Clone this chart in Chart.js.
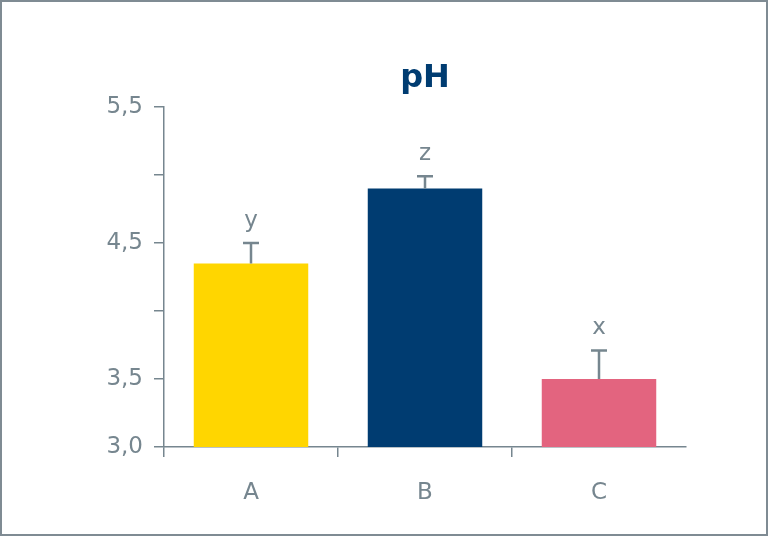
<!DOCTYPE html>
<html>
<head>
<meta charset="utf-8">
<script src="https://cdn.jsdelivr.net/npm/chart.js@4.4.1/dist/chart.umd.min.js"></script>
<style>
html,body{margin:0;padding:0;background:#fff;}
#wrap{width:768px;height:536px;position:relative;}
</style>
</head>
<body>
<div id="wrap"><canvas id="c" width="768" height="536"></canvas></div>
<script>
const categories = ['A', 'B', 'C'];
const phValues = [4.35, 4.90, 3.50];
const errorValues = [0.15, 0.09, 0.21];
const groupLetters = ['y', 'z', 'x'];
const barColors = ['#ffd600', '#003c71', '#e3647f'];
const yTicksShown = [3.0, 3.5, 4.5, 5.5];

const GRAY = '#76868f';
const FONT = "'DejaVu Sans', Verdana, sans-serif";

const errorPlugin = {
  id: 'errorBars',
  afterDatasetsDraw(chart) {
    const ctx = chart.ctx;
    const meta = chart.getDatasetMeta(0);
    const y = chart.scales.y;
    ctx.save();
    ctx.strokeStyle = GRAY;
    ctx.fillStyle = GRAY;
    ctx.lineWidth = 2.5;
    ctx.font = '23px ' + FONT;
    ctx.textAlign = 'center';
    ctx.textBaseline = 'alphabetic';
    meta.data.forEach((bar, i) => {
      const x = bar.x;
      const yTop = y.getPixelForValue(phValues[i]);
      const yErr = y.getPixelForValue(phValues[i] + errorValues[i]);
      ctx.beginPath();
      ctx.moveTo(x, yTop);
      ctx.lineTo(x, yErr);
      ctx.moveTo(x - 8, yErr);
      ctx.lineTo(x + 8, yErr);
      ctx.stroke();
      ctx.fillText(groupLetters[i], x, yErr - 16);
    });
    ctx.restore();
  }
};

const borderPlugin = {
  id: 'frame',
  afterDraw(chart) {
    const ctx = chart.ctx;
    ctx.save();
    ctx.strokeStyle = '#7f8b93';
    ctx.lineWidth = 2;
    ctx.strokeRect(1, 1, chart.width - 2, chart.height - 2);
    ctx.restore();
  }
};

new Chart(document.getElementById('c'), {
  type: 'bar',
  data: {
    labels: categories,
    datasets: [{
      data: phValues,
      backgroundColor: barColors,
      borderWidth: 0,
      barPercentage: 0.658,
      categoryPercentage: 1.0
    }]
  },
  options: {
    responsive: false,
    animation: false,
    events: [],
    layout: { padding: { left: 0, right: 82, top: 0, bottom: 0 } },
    plugins: {
      legend: { display: false },
      tooltip: { enabled: false },
      title: {
        display: true,
        text: 'pH',
        color: '#003c71',
        fullSize: false,
        font: { family: FONT, size: 32, weight: 'bold', lineHeight: 1.2 },
        padding: { top: 59, bottom: 9.6 }
      }
    },
    scales: {
      x: {
        grid: {
          drawOnChartArea: false,
          drawTicks: true,
          tickLength: 10,
          lineWidth: 1.5,
          color: (c) => (c.type === 'tick' ? GRAY : 'rgba(0,0,0,0)')
        },
        border: { color: GRAY, width: 1.5 },
        ticks: { color: GRAY, font: { family: FONT, size: 23 }, padding: 22 },
        afterFit(scale) { scale.height = 89; }
      },
      y: {
        min: 3.0,
        max: 5.5,
        grid: {
          drawOnChartArea: false,
          drawTicks: true,
          tickLength: 10,
          lineWidth: 1.5,
          color: GRAY
        },
        border: { color: GRAY, width: 1.5 },
        ticks: {
          stepSize: 0.5,
          color: GRAY,
          padding: 11,
          font: { family: FONT, size: 23 },
          callback: (v) => yTicksShown.some(t => Math.abs(t - v) < 1e-6) ? v.toFixed(1).replace('.', ',') : ''
        },
        afterFit(scale) { scale.width = 164; }
      }
    }
  },
  plugins: [errorPlugin, borderPlugin]
});
</script>
</body>
</html>
